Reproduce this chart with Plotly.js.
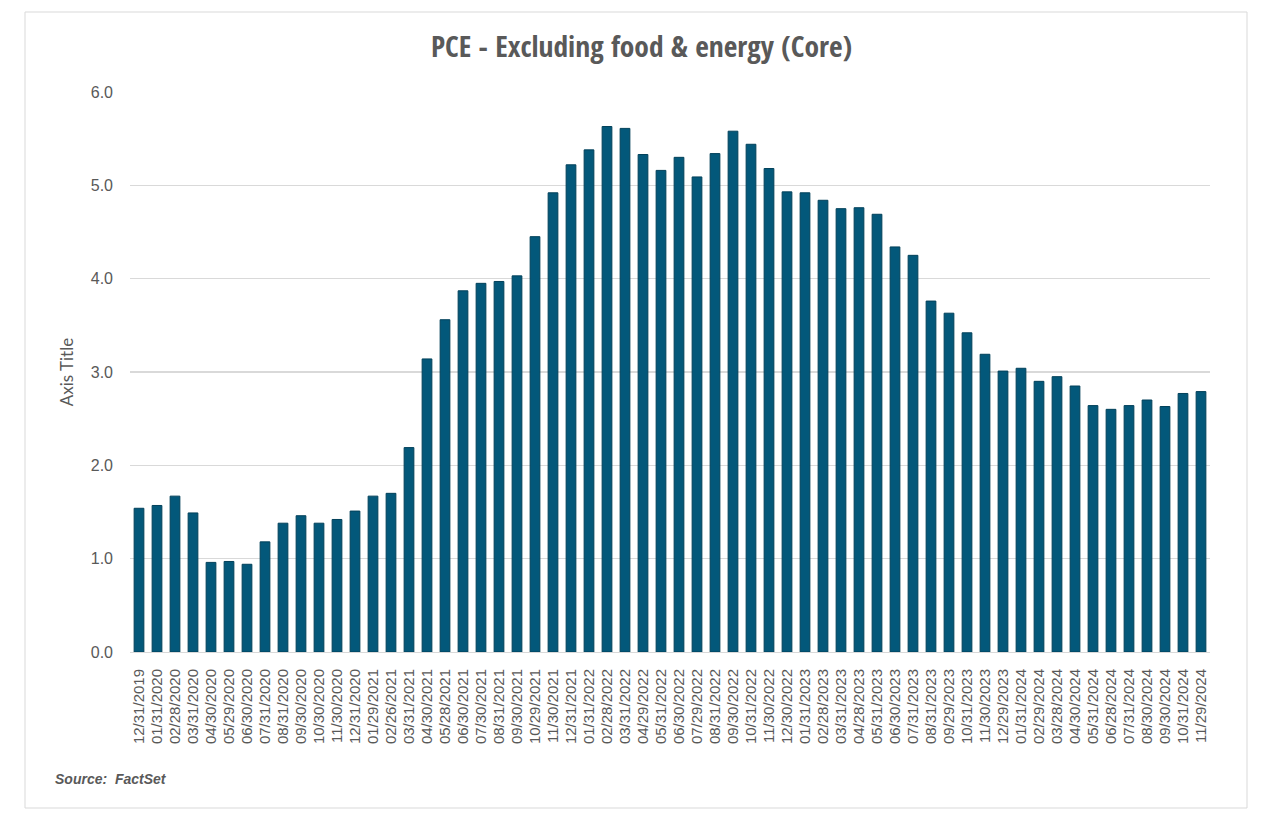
<!DOCTYPE html>
<html>
<head>
<meta charset="utf-8">
<script src="https://cdn.plot.ly/plotly-3.0.1.min.js"></script>
<style>
  html, body { margin: 0; padding: 0; background: #ffffff; }
  #chart { width: 1279px; height: 831px; }
</style>
</head>
<body>
<div id="chart"></div>
<script>
const chartTitle = "PCE - Excluding food & energy (Core)";
const yAxisTitle = "Axis Title";
const sourceNote = "Source:  FactSet";

const dates = [
  "12/31/2019","01/31/2020","02/28/2020","03/31/2020","04/30/2020","05/29/2020",
  "06/30/2020","07/31/2020","08/31/2020","09/30/2020","10/30/2020","11/30/2020",
  "12/31/2020","01/29/2021","02/26/2021","03/31/2021","04/30/2021","05/28/2021",
  "06/30/2021","07/30/2021","08/31/2021","09/30/2021","10/29/2021","11/30/2021",
  "12/31/2021","01/31/2022","02/28/2022","03/31/2022","04/29/2022","05/31/2022",
  "06/30/2022","07/29/2022","08/31/2022","09/30/2022","10/31/2022","11/30/2022",
  "12/30/2022","01/31/2023","02/28/2023","03/31/2023","04/28/2023","05/31/2023",
  "06/30/2023","07/31/2023","08/31/2023","09/29/2023","10/31/2023","11/30/2023",
  "12/29/2023","01/31/2024","02/29/2024","03/28/2024","04/30/2024","05/31/2024",
  "06/28/2024","07/31/2024","08/30/2024","09/30/2024","10/31/2024","11/29/2024"
];

const coreValues = [
  1.54, 1.57, 1.67, 1.49, 0.96, 0.97,
  0.94, 1.18, 1.38, 1.46, 1.38, 1.42,
  1.51, 1.67, 1.70, 2.19, 3.14, 3.56,
  3.87, 3.95, 3.97, 4.03, 4.45, 4.92,
  5.22, 5.38, 5.63, 5.61, 5.33, 5.16,
  5.30, 5.09, 5.34, 5.58, 5.44, 5.18,
  4.93, 4.92, 4.84, 4.75, 4.76, 4.69,
  4.34, 4.25, 3.76, 3.63, 3.42, 3.19,
  3.01, 3.04, 2.90, 2.95, 2.85, 2.64,
  2.60, 2.64, 2.70, 2.63, 2.77, 2.79
];

const yTickVals = [0, 1, 2, 3, 4, 5, 6];
const yTickText = ["0.0", "1.0", "2.0", "3.0", "4.0", "5.0", "6.0"];

const trace = {
  type: "bar",
  x: dates,
  y: coreValues,
  marker: { color: "#03587a", line: { color: "#02405a", width: 1 } },
  hoverinfo: "x+y"
};

const layout = {
  width: 1279,
  height: 831,
  paper_bgcolor: "#ffffff",
  plot_bgcolor: "#ffffff",
  margin: { l: 130, r: 69, t: 92, b: 179 },
  showlegend: false,
  bargap: 0.46,
  title: {
    text: "<b>" + chartTitle + "</b>",
    x: 0.5016, xanchor: "center",
    y: 0.944, yanchor: "middle",
    font: { family: "Open Sans Condensed, Lato, sans-serif", size: 29.5, color: "#595959" }
  },
  xaxis: {
    type: "category",
    tickmode: "linear",
    tick0: 0,
    dtick: 1,
    tickangle: -90,
    tickfont: { family: "Liberation Sans, Arial, sans-serif", size: 15, color: "#595959" },
    ticklabelstandoff: 10,
    showgrid: false,
    showline: true,
    linecolor: "#d9d9d9",
    linewidth: 1,
    ticks: "",
    fixedrange: true
  },
  yaxis: {
    range: [0, 6],
    tickvals: yTickVals,
    ticktext: yTickText,
    tickfont: { family: "Liberation Sans, Arial, sans-serif", size: 16, color: "#595959" },
    ticklabelstandoff: 16,
    showgrid: true,
    gridcolor: "#d9d9d9",
    gridwidth: 1.3,
    zeroline: false,
    showline: false,
    ticks: "",
    ticklen: 0,
    title: {
      text: yAxisTitle,
      standoff: 12,
      font: { family: "Lato, Liberation Sans, sans-serif", size: 17, color: "#595959" }
    },
    fixedrange: true
  },
  shapes: [
    {
      type: "rect", xref: "paper", yref: "paper",
      x0: -105 / 1080, x1: 1117 / 1080,
      y0: (652 - 808) / 560, y1: (652 - 12) / 560,
      line: { color: "#d9d9d9", width: 1 },
      fillcolor: "rgba(0,0,0,0)",
      layer: "below"
    }
  ],
  annotations: [
    {
      text: "<b><i>" + sourceNote + "</i></b>",
      xref: "paper", yref: "paper",
      x: -77 / 1080, xanchor: "left",
      y: (652 - 779) / 560, yanchor: "middle",
      showarrow: false,
      font: { family: "Liberation Sans, Arial, sans-serif", size: 14, color: "#595959" }
    }
  ]
};

Plotly.newPlot("chart", [trace], layout, { displayModeBar: false, staticPlot: true });
</script>
</body>
</html>
